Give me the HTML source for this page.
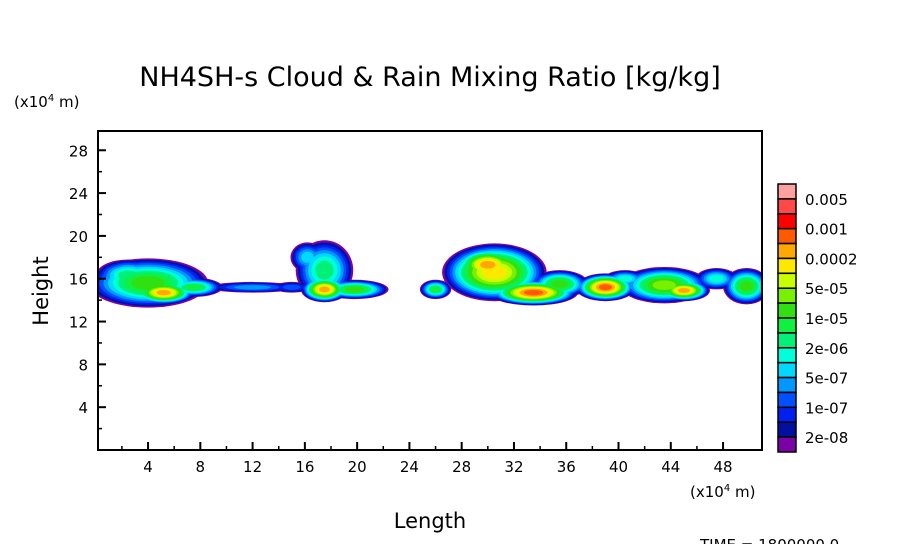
<!DOCTYPE html>
<html><head><meta charset="utf-8"><style>
body{margin:0;background:#fff;}
svg{display:block;font-family:"DejaVu Sans","Liberation Sans",sans-serif;}
</style></head><body>
<svg id="c" width="904" height="544" viewBox="0 0 904 544">
<text x="430" y="86" font-size="27" text-anchor="middle">NH4SH-s Cloud &amp; Rain Mixing Ratio [kg/kg]</text>
<text x="14" y="107" font-size="15">(x10<tspan font-size="10" dy="-6">4</tspan><tspan dy="6"> m)</tspan></text>
<text x="690" y="497" font-size="15">(x10<tspan font-size="10" dy="-6">4</tspan><tspan dy="6"> m)</tspan></text>
<text x="430" y="528" font-size="21" text-anchor="middle">Length</text>
<text x="48" y="291" font-size="21" text-anchor="middle" transform="rotate(-90 48 291)">Height</text>
<text x="700" y="550" font-size="15">TIME = 1800000.0</text>
<g id="field"></g>
<rect x="98" y="131" width="664" height="319" fill="none" stroke="#000" stroke-width="2"/>
<g id="axes"></g>
<g id="legend"></g>
</svg>
<script>
const xTicks=[4,8,12,16,20,24,28,32,36,40,44,48];
const yTicks=[4,8,12,16,20,24,28];
const legendLabels=["0.005","0.001","0.0002","5e-05","1e-05","2e-06","5e-07","1e-07","2e-08"];
const colors=["#7a00a8","#0010a0","#0020f0","#0050ff","#0098ff","#00d8ff","#00ffd8","#00f078","#10f040","#30e010","#78f000","#c8ff00","#ffe800","#ffa800","#ff5a00","#ff0000","#ff4848","#ffa0a0"];
// blobs: x center, y center, x radius, y radius (1e4 m), peak color level
const blobX=[4.0,5.2,2.5,7.5,12.0,15.0,17.5,17.5,19.8,16.2,26.0,30.5,33.5,30.0,35.5,39.0,43.5,45.0,49.8,40.5,47.5];
const blobY=[15.6,14.7,16.3,15.2,15.2,15.2,16.8,15.0,15.0,18.0,15.0,16.6,14.7,17.3,15.5,15.2,15.4,14.9,15.3,16.0,16.0];
const blobRX=[4.6,2.4,2.5,2.2,3.4,1.4,2.2,1.8,2.6,1.3,1.2,4.0,3.4,2.6,2.2,2.3,3.4,2.0,1.8,1.6,1.6];
const blobRY=[2.3,1.1,1.5,0.9,0.5,0.5,2.8,1.2,0.9,1.4,0.9,2.7,1.2,1.6,1.3,1.3,1.7,1.0,1.7,0.8,1.0];
const blobPeak=[9,13,7,8,4,3,7,13,9,5,8,12,14,13,9,14,10,13,9,6,6];
const X0=0.17,X1=50.98,Y0=0,Y1=29.8,L=98,R=762,T=131,B=450;
const sx=v=>L+(v-X0)/(X1-X0)*(R-L);
const sy=v=>B-(v-Y0)/(Y1-Y0)*(B-T);
const NS="http://www.w3.org/2000/svg";
function mk(t,a,p){const e=document.createElementNS(NS,t);for(const k in a)e.setAttribute(k,a[k]);p.appendChild(e);return e;}
const field=document.getElementById('field');
const clip=mk('clipPath',{id:'pc'},field);mk('rect',{x:L,y:T,width:R-L,height:B-T},clip);
const fg=mk('g',{'clip-path':'url(#pc)'},field);
for(let k=0;k<colors.length;k++){
 for(let i=0;i<blobX.length;i++){
  const p=blobPeak[i]; if(k>p)continue;
  const s=Math.pow(1-k/(p+1.2),0.6);
  const rx=blobRX[i]*s*(R-L)/(X1-X0), ry=blobRY[i]*s*(B-T)/(Y1-Y0);
  const e=mk('ellipse',{cx:sx(blobX[i]),cy:sy(blobY[i]),rx:rx,ry:ry,fill:colors[k]},fg);
  
  
 }
}
const ax=document.getElementById('axes');
xTicks.forEach(v=>{
 const l=mk('line',{x1:sx(v),x2:sx(v),y1:B,y2:B-8,stroke:'#000','stroke-width':2},ax);
 
 const m=mk('line',{x1:sx(v-2),x2:sx(v-2),y1:B,y2:B-4,stroke:'#000','stroke-width':1.5},ax);
 
 const t=mk('text',{x:sx(v),y:B+22,'font-size':15,'text-anchor':'middle'},ax);t.textContent=v;
 
});
yTicks.forEach(v=>{
 const l=mk('line',{x1:L,x2:L+8,y1:sy(v),y2:sy(v),stroke:'#000','stroke-width':2},ax);
 
 const m=mk('line',{x1:L,x2:L+4,y1:sy(v-2),y2:sy(v-2),stroke:'#000','stroke-width':1.5},ax);
 
 const t=mk('text',{x:L-10,y:sy(v)+6,'font-size':15,'text-anchor':'end'},ax);t.textContent=v;
 
});
const lg=document.getElementById('legend');
const n=colors.length,lt=184,lb=452,bh=(lb-lt)/n;
for(let i=0;i<n;i++){
 const r=mk('rect',{x:778,y:lt+i*bh,width:18,height:bh,fill:colors[n-1-i],stroke:'#000','stroke-width':1.5},lg);
 
}
legendLabels.forEach((s,i)=>{
 const t=mk('text',{x:805,y:lt+(2*i+1)*bh+6,'font-size':15},lg);t.textContent=s;
 
});
</script>
</body></html>
